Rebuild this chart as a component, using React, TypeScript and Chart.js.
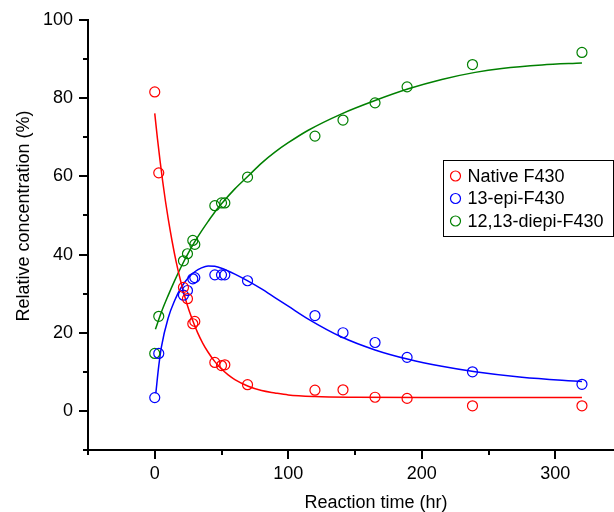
import React, { useEffect, useRef } from 'react';
import { Chart, registerables } from 'chart.js';

Chart.register(...registerables);

const FONT = '"Liberation Sans", Arial, Helvetica, sans-serif';

// Measured data (reaction time in hours)
const times = [0, 3, 21.5, 24.5, 28.5, 30, 45, 50, 52.5, 69.5, 120, 141, 165, 189, 238, 320];
const nativeF430 = [81.6, 60.9, 31.6, 28.7, 22.3, 22.9, 12.4, 11.6, 11.8, 6.7, 5.3, 5.4, 3.5, 3.2, 1.3, 1.3];
const epiF430 = [3.4, 14.7, 29.6, 30.8, 33.8, 34.1, 34.8, 34.8, 34.8, 33.3, 24.4, 20.0, 17.5, 13.7, 10.0, 6.8];
const diepiF430 = [14.7, 24.2, 38.4, 40.2, 43.6, 42.6, 52.5, 53.2, 53.2, 59.8, 70.3, 74.4, 78.8, 82.9, 88.6, 91.7];

// Fitted curves
const nativeFitT = [0, 2, 4, 6, 8, 10, 13, 16, 20, 24, 28, 32, 36, 40, 45, 50, 55, 60, 70, 80, 90, 100, 120, 150, 200, 320];
const nativeFitY = [76.1, 69.7, 63.9, 58.6, 53.7, 49.3, 43.4, 38.2, 32.4, 27.5, 23.5, 20.1, 17.3, 15.0, 12.6, 10.7, 9.2, 8.0, 6.3, 5.2, 4.6, 4.1, 3.7, 3.5, 3.4, 3.4];
const epiFitT = [0.8, 3, 5, 10, 15, 20, 25, 30, 35, 40, 45, 50, 60, 70, 80, 90, 100, 115, 140, 165, 190, 215, 240, 275, 320];
const epiFitY = [4.5, 11.5, 16.4, 23.7, 28.3, 31.7, 34.0, 35.6, 36.6, 37.1, 37.0, 36.5, 35.0, 33.2, 31.2, 29.0, 26.8, 23.5, 18.9, 15.6, 13.2, 11.4, 10.0, 8.6, 7.5];
const diepiFitT = [0.5, 5, 10, 15, 20, 25, 30, 35, 40, 45, 50, 60, 70, 80, 90, 100, 115, 140, 165, 190, 215, 240, 260, 290, 320];
const diepiFitY = [20.9, 25.3, 29.5, 33.4, 37.0, 40.3, 43.3, 46.0, 48.5, 50.9, 53.0, 56.8, 60.1, 63.4, 66.2, 68.6, 71.8, 76.0, 79.4, 82.4, 84.8, 86.6, 87.6, 88.5, 89.0];

const seriesLabels = ['Native F430', '13-epi-F430', '12,13-diepi-F430'];
const seriesColors = ['#ff0000', '#0000ff', '#008000'];

const xMajorTicks = [0, 100, 200, 300];
const xMinorTicks = [-50, 50, 150, 250];
const yMajorTicks = [0, 20, 40, 60, 80, 100];
const yMinorTicks = [-10, 10, 30, 50, 70, 90];

const xTitle = 'Reaction time (hr)';
const yTitle = 'Relative concentration (%)';

const toPts = (xs: number[], ys: number[]) => xs.map((x, i) => ({ x, y: ys[i] }));

const decorPlugin = {
  id: 'decor',
  afterDraw(chart: any) {
    const ctx = chart.ctx as CanvasRenderingContext2D;
    const xs = chart.scales.x;
    const ys = chart.scales.y;
    const area = chart.chartArea;
    ctx.save();
    ctx.strokeStyle = '#000';
    ctx.lineWidth = 2;
    const xt = (v: number, len: number) => {
      const p = Math.round(xs.getPixelForValue(v));
      ctx.beginPath();
      ctx.moveTo(p, xs.top);
      ctx.lineTo(p, xs.top + len);
      ctx.stroke();
    };
    const yt = (v: number, len: number) => {
      const p = Math.round(ys.getPixelForValue(v));
      ctx.beginPath();
      ctx.moveTo(ys.right, p);
      ctx.lineTo(ys.right - len, p);
      ctx.stroke();
    };
    xMajorTicks.forEach((v) => xt(v, 9));
    xMinorTicks.forEach((v) => xt(v, 5));
    yMajorTicks.forEach((v) => yt(v, 9));
    yMinorTicks.forEach((v) => yt(v, 5));

    // axis titles
    ctx.fillStyle = '#000';
    ctx.font = `18px ${FONT}`;
    ctx.textAlign = 'center';
    ctx.textBaseline = 'alphabetic';
    ctx.fillText(xTitle, area.left + 288, xs.top + 58);
    ctx.save();
    ctx.translate(29, area.top + 196);
    ctx.rotate(-Math.PI / 2);
    ctx.fillText(yTitle, 0, 0);
    ctx.restore();

    // legend
    const bx = area.right - 171;
    const by = area.top + 140;
    const bw = 170;
    const bh = 76;
    ctx.fillStyle = '#fff';
    ctx.fillRect(bx, by, bw, bh);
    ctx.strokeStyle = '#000';
    ctx.lineWidth = 1;
    ctx.strokeRect(bx + 0.5, by + 0.5, bw, bh);
    ctx.textAlign = 'left';
    ctx.textBaseline = 'middle';
    seriesLabels.forEach((lab, i) => {
      const cy = by + 16 + i * 22.5;
      ctx.beginPath();
      ctx.arc(bx + 12.5, cy, 5, 0, Math.PI * 2);
      ctx.strokeStyle = seriesColors[i];
      ctx.lineWidth = 1.2;
      ctx.stroke();
      ctx.fillStyle = '#000';
      ctx.fillText(lab, bx + 24.5, cy + 1);
    });
    ctx.restore();
  },
};

export default function App() {
  const ref = useRef<HTMLCanvasElement | null>(null);
  useEffect(() => {
    if (!ref.current) return;
    const pointDs = (i: number, ys: number[]) => ({
      type: 'scatter' as const,
      label: seriesLabels[i],
      data: toPts(times, ys),
      showLine: false,
      pointRadius: 5,
      pointHoverRadius: 5,
      pointBorderWidth: 1.2,
      pointBackgroundColor: 'rgba(0,0,0,0)',
      pointBorderColor: seriesColors[i],
      borderColor: seriesColors[i],
    });
    const fitDs = (i: number, xs: number[], ys: number[]) => ({
      type: 'scatter' as const,
      label: seriesLabels[i] + ' fit',
      data: toPts(xs, ys),
      showLine: true,
      pointRadius: 0,
      borderWidth: 1.5,
      borderColor: seriesColors[i],
      backgroundColor: seriesColors[i],
      cubicInterpolationMode: 'monotone' as const,
      fill: false,
    });
    const chart = new Chart(ref.current, {
      type: 'scatter',
      data: {
        datasets: [
          pointDs(0, nativeF430),
          pointDs(1, epiF430),
          pointDs(2, diepiF430),
          fitDs(0, nativeFitT, nativeFitY),
          fitDs(1, epiFitT, epiFitY),
          fitDs(2, diepiFitT, diepiFitY),
        ],
      },
      options: {
        responsive: false,
        animation: false,
        devicePixelRatio: 1,
        layout: { padding: { top: 20, right: 0, bottom: 0, left: 0 }, autoPadding: false },
        plugins: { legend: { display: false }, tooltip: { enabled: false } },
        scales: {
          x: {
            type: 'linear',
            min: -50,
            max: 344,
            afterFit: (s: any) => {
              s.height = 62;
              s.paddingLeft = 0;
              s.paddingRight = 0;
              s.paddingTop = 0;
              s.paddingBottom = 0;
            },
            afterBuildTicks: (s: any) => {
              s.ticks = [...xMinorTicks, ...xMajorTicks].sort((a, b) => a - b).map((v) => ({ value: v }));
            },
            grid: { display: false, drawTicks: false },
            border: { display: true, color: '#000', width: 2 },
            ticks: {
              padding: 13,
              color: '#000',
              font: { family: FONT, size: 18 },
              maxRotation: 0,
              autoSkip: false,
              callback: (v: any) => (xMajorTicks.includes(Number(v)) ? String(v) : ''),
            },
          },
          y: {
            type: 'linear',
            min: -10,
            max: 100,
            afterFit: (s: any) => {
              s.width = 88;
              s.paddingLeft = 0;
              s.paddingRight = 0;
              s.paddingTop = 0;
              s.paddingBottom = 0;
            },
            afterBuildTicks: (s: any) => {
              s.ticks = [...yMinorTicks, ...yMajorTicks].sort((a, b) => a - b).map((v) => ({ value: v }));
            },
            grid: { display: false, drawTicks: false },
            border: { display: true, color: '#000', width: 2 },
            ticks: {
              padding: 15,
              color: '#000',
              font: { family: FONT, size: 18 },
              autoSkip: false,
              callback: (v: any) => (yMajorTicks.includes(Number(v)) ? String(v) : ''),
            },
          },
        },
      },
      plugins: [decorPlugin],
    });
    return () => chart.destroy();
  }, []);
  return (
    <div style={{ position: 'fixed', left: 0, top: 0, width: 614, height: 512, background: '#fff' }}>
      <canvas ref={ref} width={614} height={512} style={{ display: 'block' }} />
    </div>
  );
}
